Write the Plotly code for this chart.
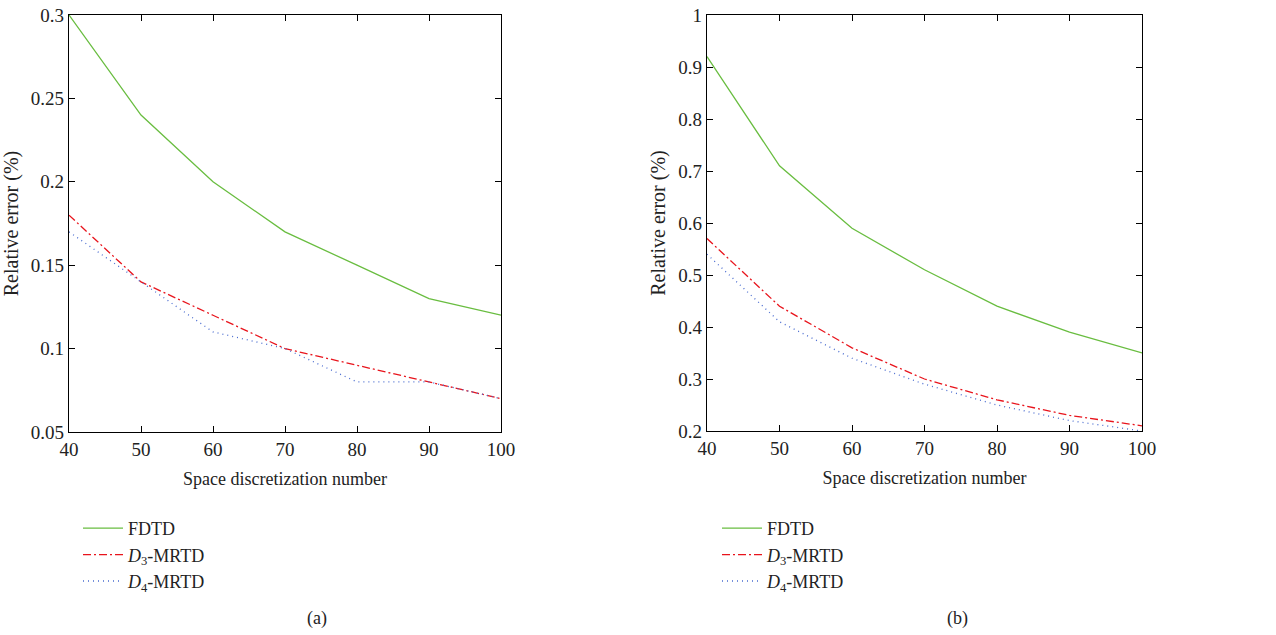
import plotly.graph_objects as go

x_vals = [40, 50, 60, 70, 80, 90, 100]

fdtd_a = [0.30, 0.24, 0.20, 0.17, 0.15, 0.13, 0.12]
d3_a = [0.18, 0.14, 0.12, 0.10, 0.09, 0.08, 0.07]
d4_a = [0.17, 0.14, 0.11, 0.10, 0.08, 0.08, 0.07]

fdtd_b = [0.92, 0.71, 0.59, 0.51, 0.44, 0.39, 0.35]
d3_b = [0.57, 0.44, 0.36, 0.30, 0.26, 0.23, 0.21]
d4_b = [0.54, 0.41, 0.34, 0.29, 0.25, 0.22, 0.20]

names = ["FDTD", "<i>D</i><sub>3</sub>-MRTD", "<i>D</i><sub>4</sub>-MRTD"]
colors = ["#69bd40", "#e8141c", "#4a6cd0"]
dashes = ["solid", "8px,3px,2px,3px", "1px,4px"]

FONT = "Liberation Serif"
W, H = 1276, 635

fig = go.Figure()

panels = [
    ((fdtd_a, d3_a, d4_a), "x", "y", "legend"),
    ((fdtd_b, d3_b, d4_b), "x2", "y2", "legend2"),
]
for series, xa, ya, lg in panels:
    for s, n, c, d in zip(series, names, colors, dashes):
        fig.add_trace(go.Scatter(
            x=x_vals, y=s, mode="lines", name=n,
            line=dict(color=c, dash=d, width=1.3),
            xaxis=xa, yaxis=ya, legend=lg,
        ))

def px(x):
    return x / W

def py(y):
    return 1 - y / H

axis_common = dict(
    showline=True, linecolor="black", linewidth=1.2, mirror="ticks",
    ticks="inside", ticklen=6, tickcolor="black", showgrid=False, zeroline=False,
    automargin=False,
    tickfont=dict(family=FONT, size=19, color="#222"),
)
xtitle_font = dict(family=FONT, size=18, color="#222")
ytitle_font = dict(family=FONT, size=20, color="#222")

fig.update_layout(
    template="none",
    width=W, height=H,
    margin=dict(l=0, r=0, t=0, b=0),
    paper_bgcolor="white", plot_bgcolor="white",
    font=dict(family=FONT, color="#222"),
    xaxis=dict(domain=[px(69), px(501)], range=[40, 100], dtick=10, anchor="y",
               title=dict(text="Space discretization number", font=xtitle_font, standoff=13),
               **axis_common),
    yaxis=dict(domain=[py(432), py(15)], range=[0.05, 0.3], dtick=0.05, anchor="x",
               title=dict(text="Relative error (%)", font=ytitle_font, standoff=7),
               **axis_common),
    xaxis2=dict(domain=[px(707), px(1142)], range=[40, 100], dtick=10, anchor="y2",
                title=dict(text="Space discretization number", font=xtitle_font, standoff=13),
                **axis_common),
    yaxis2=dict(domain=[py(431), py(15)], range=[0.2, 1.0], dtick=0.1, anchor="x2",
                title=dict(text="Relative error (%)", font=ytitle_font, standoff=7),
                **axis_common),
    legend=dict(x=px(78), y=py(510), xanchor="left", yanchor="top",
                font=dict(family=FONT, size=18, color="#222"), bgcolor="rgba(0,0,0,0)",
                tracegroupgap=0, itemwidth=40),
    legend2=dict(x=px(717), y=py(510), xanchor="left", yanchor="top",
                 font=dict(family=FONT, size=18, color="#222"), bgcolor="rgba(0,0,0,0)",
                 tracegroupgap=0, itemwidth=40),
    annotations=[
        dict(text="(a)", x=px(317), y=py(618), xref="paper", yref="paper", showarrow=False,
             xanchor="center", yanchor="middle",
             font=dict(family=FONT, size=18, color="#222")),
        dict(text="(b)", x=px(957), y=py(618), xref="paper", yref="paper", showarrow=False,
             xanchor="center", yanchor="middle",
             font=dict(family=FONT, size=18, color="#222")),
    ],
)

fig.write_html(
    "out.html",
    config={"displayModeBar": False},
    post_script="document.body.style.margin='0';document.body.style.overflow='hidden';",
)
